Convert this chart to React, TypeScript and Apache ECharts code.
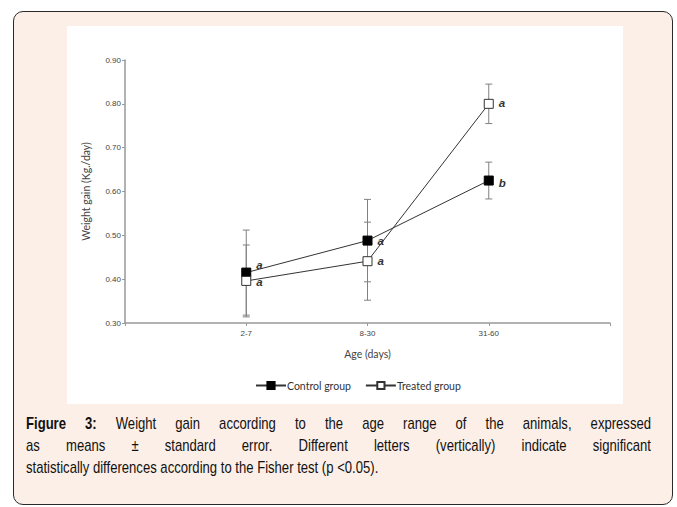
import React, { useEffect, useRef } from "react";
import * as echarts from "echarts";

const ageGroups = ["2-7", "8-30", "31-60"];
const controlMeans = [0.415, 0.488, 0.625];
const controlErr = [0.097, 0.094, 0.042];
const treatedMeans = [0.396, 0.441, 0.8];
const treatedErr = [0.082, 0.089, 0.045];
const controlLetters = ["a", "a", "b"];
const treatedLetters = ["a", "a", "a"];
const yMin = 0.3;
const yMax = 0.9;
const yStep = 0.1;

const captionBold = "Figure 3:";
const captionLines = [
  " Weight gain according to the age range of the animals, expressed",
  "as means ± standard error. Different letters (vertically) indicate significant",
  "statistically differences according to the Fisher test (p <0.05).",
];

const chartFont = "Lato, 'Open Sans', sans-serif";
const tickFont = "'Liberation Sans', Arial, sans-serif";

const CAP_SCALE = 0.77;
const CAP_WIDTH = 625;

export default function App() {
  const ref = useRef<HTMLDivElement>(null);

  useEffect(() => {
    if (!ref.current) return;
    const chart = echarts.init(ref.current, null, { renderer: "svg" });

    const mk = (means: number[], letters: string[], offsets: number[][]) =>
      means.map((v, i) => ({
        value: [i + 1, v],
        label: {
          show: true,
          position: "right",
          distance: 5,
          offset: offsets[i],
          formatter: letters[i],
          fontStyle: "italic",
          fontWeight: "bold",
          fontSize: 11.5,
          color: "#333",
          fontFamily: "'Liberation Sans', Arial, sans-serif",
        },
      }));

    const errSeries = (name: string, means: number[], errs: number[]) => ({
      type: "custom",
      name,
      z: 1,
      silent: true,
      data: means.map((m, i) => [i + 1, m - errs[i], m + errs[i]]),
      renderItem: (params: any, api: any) => {
        const x = api.value(0);
        const lo = api.coord([x, api.value(1)]);
        const hi = api.coord([x, api.value(2)]);
        const w = 3.5;
        const st = { stroke: "#808080", lineWidth: 1 };
        return {
          type: "group",
          children: [
            { type: "line", shape: { x1: lo[0], y1: lo[1], x2: hi[0], y2: hi[1] }, style: st },
            { type: "line", shape: { x1: lo[0] - w, y1: lo[1], x2: lo[0] + w, y2: lo[1] }, style: st },
            { type: "line", shape: { x1: hi[0] - w, y1: hi[1], x2: hi[0] + w, y2: hi[1] }, style: st },
          ],
        };
      },
    });

    chart.setOption({
      animation: false,
      grid: { left: 125, right: 67, top: 60, bottom: 184, containLabel: false },
      xAxis: {
        type: "value",
        min: 0,
        max: 4,
        interval: 1,
        name: "Age (days)",
        nameLocation: "middle",
        nameGap: 25,
        nameTextStyle: { fontSize: 10.5, color: "#444", fontFamily: chartFont },
        axisLine: { lineStyle: { color: "#999", width: 1.5 } },
        axisTick: { length: 3, lineStyle: { color: "#999" } },
        axisLabel: {
          fontSize: 8,
          color: "#444",
          margin: 6,
          fontFamily: tickFont,
          formatter: (v: number) => (v >= 1 && v <= ageGroups.length ? ageGroups[v - 1] : ""),
        },
        splitLine: { show: false },
      },
      yAxis: {
        type: "value",
        min: yMin,
        max: yMax,
        interval: yStep,
        name: "Weight gain (Kg./day)",
        nameLocation: "middle",
        nameGap: 34,
        nameTextStyle: { fontSize: 10.5, color: "#444", fontFamily: chartFont },
        axisLine: { show: true, lineStyle: { color: "#999", width: 1.5 } },
        axisTick: { show: true, length: 3, lineStyle: { color: "#999" } },
        axisLabel: {
          fontSize: 8,
          color: "#444",
          margin: 4,
          fontFamily: tickFont,
          formatter: (v: number) => v.toFixed(2),
        },
        splitLine: { show: false },
      },
      legend: {
        left: 250,
        top: 375,
        itemWidth: 30,
        itemHeight: 9,
        itemGap: 14,
        textStyle: { fontSize: 10.5, color: "#333", fontFamily: chartFont, padding: [0, 0, 0, -4] },
        data: ["Control group", "Treated group"],
      },
      series: [
        errSeries("errC", controlMeans, controlErr),
        errSeries("errT", treatedMeans, treatedErr),
        {
          type: "line",
          name: "Control group",
          z: 3,
          symbol: "rect",
          symbolSize: 9,
          lineStyle: { color: "#333", width: 1 },
          itemStyle: { color: "#000", borderColor: "#000", borderWidth: 1 },
          data: mk(controlMeans, controlLetters, [[0, -8], [0, 0], [0, 2]]),
        },
        {
          type: "line",
          name: "Treated group",
          z: 4,
          symbol: "rect",
          symbolSize: 9,
          lineStyle: { color: "#333", width: 1 },
          itemStyle: { color: "#fff", borderColor: "#333", borderWidth: 1 },
          data: mk(treatedMeans, treatedLetters, [[0, 1], [0, 0], [0, -1]]),
        },
      ],
    });
    return () => chart.dispose();
  }, []);

  const lineStyle = (justify: boolean): React.CSSProperties => ({
    width: CAP_WIDTH / CAP_SCALE,
    transform: `scaleX(${CAP_SCALE})`,
    transformOrigin: "0 0",
    whiteSpace: "nowrap",
    textAlign: justify ? "justify" : "left",
    textAlignLast: justify ? "justify" : "left",
    height: 22,
  });

  return (
    <div style={{ position: "fixed", left: 0, top: 0, width: 677, height: 507, background: "#fff", overflow: "hidden" }}>
      <div
        style={{
          position: "absolute",
          left: 13,
          top: 11,
          width: 658,
          height: 492,
          border: "1.5px solid #2a2a2a",
          borderRadius: 10,
          background: "#fcefe7",
        }}
      />
      <div style={{ position: "absolute", left: 67, top: 26, width: 556, height: 378, background: "#fff" }} />
      <div ref={ref} style={{ position: "absolute", left: 0, top: 0, width: 677, height: 507 }} />
      <div
        style={{
          position: "absolute",
          left: 26,
          top: 413,
          fontFamily: "'Liberation Sans', Arial, sans-serif",
          fontSize: 17,
          lineHeight: "22px",
          color: "#111",
        }}
      >
        <div style={lineStyle(true)}>
          <b>{captionBold}</b>
          {captionLines[0]}
        </div>
        <div style={lineStyle(true)}>{captionLines[1]}</div>
        <div style={lineStyle(false)}>{captionLines[2]}</div>
      </div>
    </div>
  );
}
